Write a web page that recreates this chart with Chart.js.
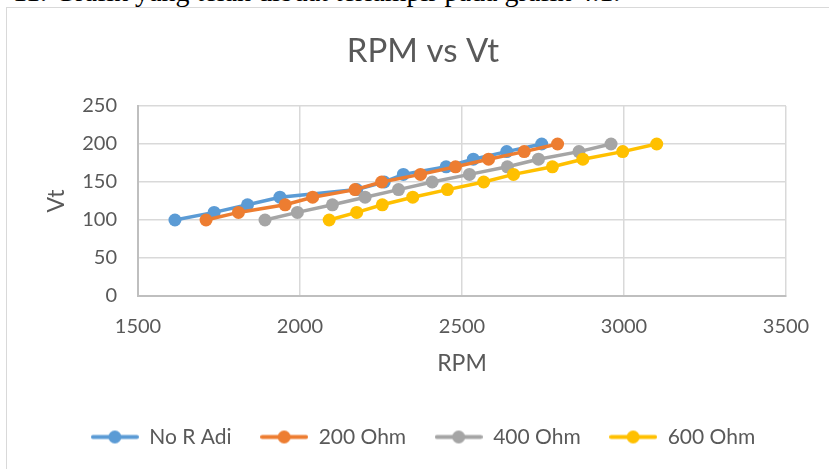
<!DOCTYPE html>
<html>
<head>
<meta charset="utf-8">
<title>RPM vs Vt</title>
<script src="https://cdn.jsdelivr.net/npm/chart.js@4.4.1/dist/chart.umd.min.js"></script>
<style>
    html, body { margin: 0; padding: 0; background: #fff; }
    body { width: 829px; height: 469px; overflow: hidden; position: relative; }
    .caption { position: absolute; top: -22px; font: 28px/28px "Liberation Serif", serif; color: #000; white-space: pre; }
    .frame { position: absolute; left: 6px; top: 7px; width: 900px; height: 600px; border: 1px solid #d9d9d9; }
    #grafik { position: absolute; left: 8px; top: 10px; }
</style>
</head>
<body>
<span class="caption" style="left:13px">11.</span>
<span class="caption" style="left:55px">Grafik yang telah dibuat terlampir pada grafik 4.1.</span>
<div class="frame"></div>
<canvas id="grafik" width="821" height="470"></canvas>

<script>
// data
const vt = [100, 110, 120, 130, 140, 150, 160, 170, 180, 190, 200];
const rpmNoR = [1614, 1735, 1838, 1938, 2175, 2260, 2319, 2451, 2535, 2638, 2746];
const rpm200 = [1710, 1810, 1954, 2039, 2170, 2252, 2372, 2480, 2582, 2692, 2795];
const rpm400 = [1892, 1992, 2100, 2201, 2304, 2408, 2523, 2640, 2736, 2861, 2960];
const rpm600 = [2090, 2175, 2254, 2348, 2455, 2567, 2659, 2779, 2873, 2996, 3101];

const seriesNames = ['No R Adi', '200 Ohm', '400 Ohm', '600 Ohm'];
const rpmTicks = [1500, 2000, 2500, 3000, 3500];
const vtTicks = [0, 50, 100, 150, 200, 250];

const warna = ['#5B9BD5', '#ED7D31', '#A5A5A5', '#FFC000'];
const FONT = 'Lato, "Open Sans", sans-serif';
const TEXT = '#595959';

function titik(rpm) {
    return rpm.map((x, i) => ({ x: x, y: vt[i] }));
}

// ikon legenda: garis + bulatan seperti di Excel
function buatIkon(color) {
    const c = document.createElement('canvas');
    c.width = 48;
    c.height = 15;
    const g = c.getContext('2d');
    g.strokeStyle = color;
    g.lineWidth = 4;
    g.lineCap = 'round';
    g.beginPath();
    g.moveTo(2, 7.5);
    g.lineTo(46, 7.5);
    g.stroke();
    g.fillStyle = color;
    g.beginPath();
    g.arc(24, 7.5, 6.5, 0, Math.PI * 2);
    g.fill();
    return c;
}
const ikon = warna.map(buatIkon);

const semuaRpm = [rpmNoR, rpm200, rpm400, rpm600];

const datasets = semuaRpm.map((rpm, i) => ({
    label: seriesNames[i],
    data: titik(rpm),
    showLine: true,
    borderColor: warna[i],
    backgroundColor: warna[i],
    borderWidth: 3.5,
    pointRadius: 6.5,
    pointBorderWidth: 0,
    pointBackgroundColor: warna[i],
    tension: 0,
    order: 4 - i   // seri terakhir digambar paling atas
}));

new Chart(document.getElementById('grafik'), {
    type: 'scatter',
    data: { datasets },
    options: {
        responsive: false,
        animation: false,
        events: [],
        layout: { padding: { left: 52, right: 43, top: 0, bottom: 22.5 } },
        plugins: {
            title: {
                display: true,
                text: 'RPM vs Vt',
                color: TEXT,
                font: { family: FONT, size: 33, weight: 'normal' },
                padding: { top: 21.2, bottom: 35.2 }
            },
            legend: {
                position: 'bottom',
                labels: {
                    color: TEXT,
                    font: { family: FONT, size: 21 },
                    usePointStyle: true,
                    pointStyleWidth: 48,
                    padding: 28.5,
                    generateLabels(chart) {
                        const items = Chart.defaults.plugins.legend.labels.generateLabels(chart);
                        items.forEach(it => { it.pointStyle = ikon[it.datasetIndex]; });
                        return items.sort((a, b) => a.datasetIndex - b.datasetIndex);
                    }
                }
            },
            tooltip: { enabled: false }
        },
        scales: {
            x: {
                type: 'linear',
                min: rpmTicks[0],
                max: rpmTicks[rpmTicks.length - 1],
                afterBuildTicks: s => { s.ticks = rpmTicks.map(v => ({ value: v })); },
                afterFit: s => { s.height = 102; },
                grid: { color: '#d9d9d9', lineWidth: 1.5, drawTicks: false },
                border: { color: '#bfbfbf', width: 2 },
                ticks: { color: TEXT, font: { family: FONT, size: 20 }, padding: 19, maxRotation: 0, callback: v => String(v) },
                title: {
                    display: true,
                    text: 'RPM',
                    color: TEXT,
                    font: { family: FONT, size: 23 },
                    padding: { top: 0, bottom: 20.2 }
                }
            },
            y: {
                min: vtTicks[0],
                max: vtTicks[vtTicks.length - 1],
                afterBuildTicks: s => { s.ticks = vtTicks.map(v => ({ value: v })); },
                afterFit: s => { s.width = 78; },
                grid: { color: '#d9d9d9', lineWidth: 1.5, drawTicks: false },
                border: { color: '#bfbfbf', width: 2 },
                ticks: { color: TEXT, font: { family: FONT, size: 20 }, padding: 21, callback: v => String(v) },
                title: {
                    display: true,
                    text: 'Vt',
                    color: TEXT,
                    font: { family: FONT, size: 23 },
                    padding: { top: -16.8, bottom: 0 }
                }
            }
        }
    }
});
</script>
</body>
</html>
